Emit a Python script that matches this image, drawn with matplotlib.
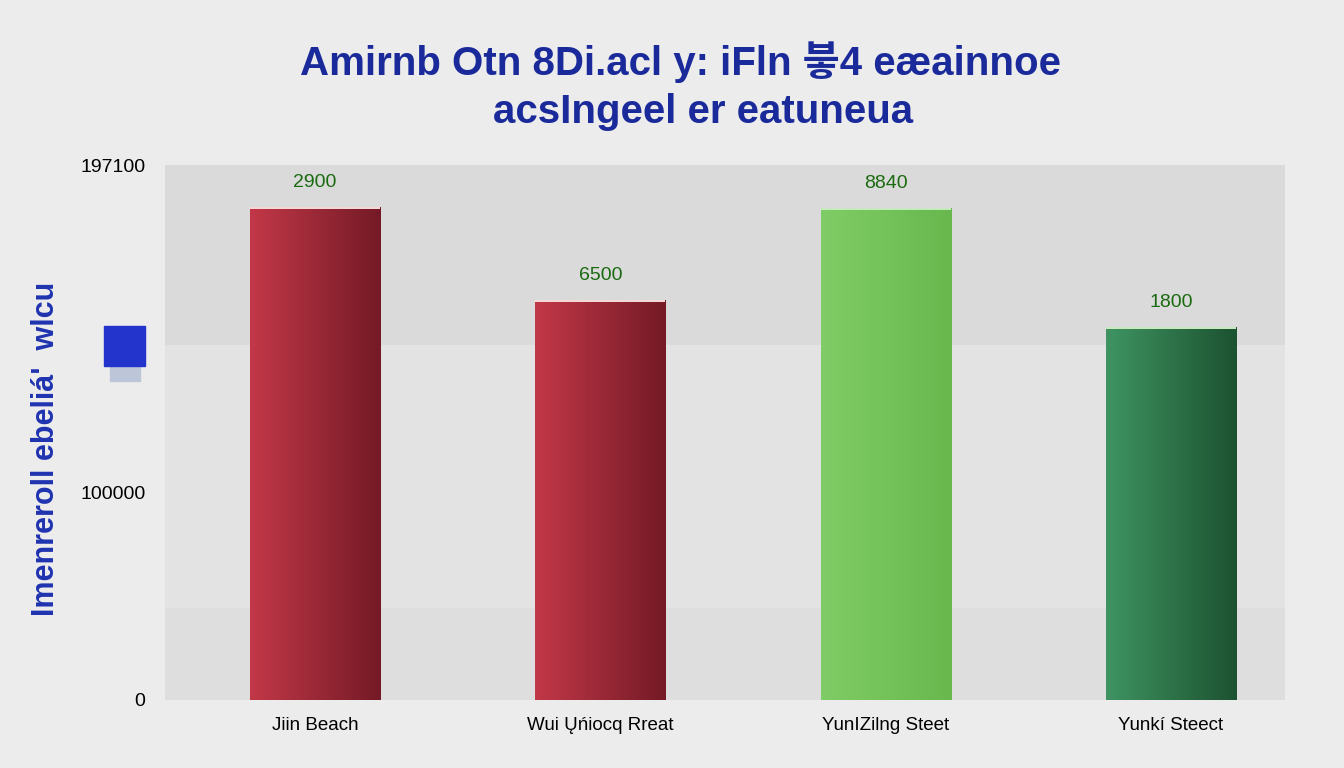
import numpy as np
import matplotlib
matplotlib.use("Agg")
import matplotlib.pyplot as plt
from matplotlib.patches import Rectangle

plt.rcParams['font.family'] = ['Liberation Sans', 'Noto Sans CJK KR', 'DejaVu Sans']

# Dữ liệu
streets = ["Jiin Beach", "Wui Ųńiocq Rreat", "YunIZilng Steet", "Yunkí Steect"]
heights = [181600, 147400, 181300, 137400]
value_labels = ["2900", "6500", "8840", "1800"]
ytick_pos = [0, 76300, 197100]
ytick_labels = ["0", "100000", "197100"]
colors_left = ["#c23848", "#c23848", "#80cc66", "#3f9462"]
colors_right = ["#741a26", "#741a26", "#68b84e", "#1c5230"]

fig = plt.figure(figsize=(13.44, 7.68), dpi=100)
fig.patch.set_facecolor("#ececec")
ax = fig.add_axes([165 / 1344, 68 / 768, 1120 / 1344, 535 / 768])
ax.set_facecolor("#dddddd")

# dải nền ngang
ax.axhspan(130800, 197100, color="#dadada", zorder=0)
ax.axhspan(33900, 130800, color="#e3e3e3", zorder=0)
ax.axhspan(0, 33900, color="#dedede", zorder=0)

x = np.arange(len(streets))
bars = ax.bar(x, heights, width=0.456, color="none", zorder=2)

grad = np.linspace(0, 1, 256).reshape(1, -1)
for b, c0, c1 in zip(bars, colors_left, colors_right):
    cmap = matplotlib.colors.LinearSegmentedColormap.from_list("g", [c0, c1])
    x0, w, h = b.get_x(), b.get_width(), b.get_height()
    im = ax.imshow(grad, cmap=cmap, aspect="auto", extent=[x0, x0 + w, 0, h], zorder=3)
    im.set_clip_path(b)
    ax.add_patch(Rectangle((x0, h - 800), w, 800, color="#f4d8d8" if c0 == "#c23848" else "#c8e8c0", zorder=4, lw=0))

for xi, h, lab in zip(x, heights, value_labels):
    ax.text(xi, h + 6000, lab, ha="center", va="bottom", fontsize=14, color="#1a6a10")

ax.set_xticks(x)
ax.set_xticklabels(streets, fontsize=13.5)
ax.set_yticks(ytick_pos)
ax.set_yticklabels(ytick_labels, fontsize=14)
ax.tick_params(axis="y", length=0, pad=14)
ax.tick_params(axis="x", length=0, pad=12)
for s in ax.spines.values():
    s.set_visible(False)
ax.set_xlim(-0.526, 3.40)
ax.set_ylim(0, 197100)

fig.text(0.506, 0.919, "Amirnb Otn 8Di.acl y: iFln 븧4 eæainnoe", ha="center", va="center",
         fontsize=29, fontweight="bold", color="#1a2a9a")
fig.text(0.523, 0.854, "acsIngeel er eatuneua", ha="center", va="center",
         fontsize=29, fontweight="bold", color="#1a2a9a")

fig.text(0.034, 0.415, "Imenreroll ebeliá'  wlcu", rotation=90, ha="center", va="center",
         fontsize=22, fontweight="bold", color="#1f33b0")

# ô vuông màu xanh (chú giải)
fig.patches.append(Rectangle((110 / 1344, 1 - 381 / 768), 30 / 1344, 18 / 768,
                             transform=fig.transFigure, color="#bcc6d8", zorder=1))
fig.patches.append(Rectangle((104 / 1344, 1 - 366 / 768), 41 / 1344, 40 / 768,
                             transform=fig.transFigure, color="#2234cc", zorder=2))

plt.savefig("out.png", dpi=100)
